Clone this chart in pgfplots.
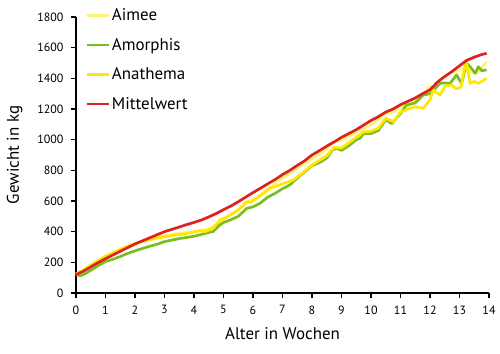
\documentclass[border=0pt]{standalone}
\usepackage{pgfplots}
\pgfplotsset{compat=1.18}
\usepackage{fontspec}
\setmainfont{PT Sans}
\definecolor{cAimee}{RGB}{255,244,120}
\definecolor{cAmorphis}{RGB}{122,190,30}
\definecolor{cAnathema}{RGB}{255,232,0}
\definecolor{cMittel}{RGB}{222,32,32}
\begin{document}
\begin{tikzpicture}
\begin{axis}[
  name=ax,
  scale only axis,
  width=413bp, height=276bp,
  xmin=0, xmax=14, ymin=0, ymax=1800,
  xtick={0,1,...,14}, ytick={0,200,...,1800},
  axis x line*=bottom, axis y line*=left,
  axis line style={line width=1.8pt, black, -},
  tick style={line width=1.5pt, black},
  tick align=outside,
  major tick length=5bp,
  /pgf/number format/assume math mode=true,
  /pgf/number format/1000 sep={},
  tick label style={font=\fontsize{12}{14}\selectfont},
  xticklabel style={yshift=-4bp},
  yticklabel style={xshift=-4bp},
  xlabel={Alter in Wochen}, ylabel={Gewicht in kg},
  label style={font=\fontsize{17}{20}\selectfont},
  xlabel style={yshift=-6bp},
  ylabel style={yshift=8bp},
  legend style={draw=none, fill=none, at={(0.015,1.045)}, anchor=north west,
    font=\fontsize{17}{20}\selectfont, row sep=12bp},
  legend cell align=left,
  legend image code/.code={\draw[#1, line width=2.6pt] (0bp,0bp) -- (22bp,0bp);},
  every axis plot/.append style={line width=2.7pt, line join=round},
  clip=false,
]
\addplot[cAimee] coordinates {
(0,118) (0.25,145) (0.5,178) (0.75,208) (1,235) (1.25,258) (1.5,280) (1.75,300) (2,318) (2.25,334) (2.5,348) (2.75,362) (3,375) (3.25,383) (3.5,390) (3.75,395) (4,400) (4.25,410) (4.5,420) (4.75,445) (5,480) (5.25,510) (5.5,545) (5.75,585) (6,612) (6.25,640) (6.5,680) (6.75,715) (7,750) (7.25,780) (7.5,815) (7.75,845) (8,875) (8.25,905) (8.5,940) (8.72,987) (9,995) (9.25,1020) (9.5,1050) (9.75,1070) (10,1100) (10.25,1130) (10.5,1170) (10.75,1180) (11,1210) (11.25,1240) (11.55,1270) (11.8,1300) (12,1350) (12.2,1335) (12.35,1395) (12.5,1415) (12.68,1433) (12.9,1445) (13.13,1465) (13.36,1443) (13.58,1433) (13.75,1470) (13.92,1508)};
\addlegendentry{Aimee}
\addplot[cAmorphis] coordinates {
(0,122) (0.15,112) (0.3,125) (0.5,148) (0.75,178) (1,205) (1.25,220) (1.5,238) (1.75,258) (2,275) (2.25,290) (2.5,305) (2.75,318) (3,335) (3.25,345) (3.5,355) (3.75,362) (4,370) (4.25,382) (4.5,395) (4.65,400) (4.85,440) (5,460) (5.25,478) (5.5,500) (5.79,552) (6,562) (6.24,585) (6.5,625) (6.75,650) (7,680) (7.25,705) (7.5,750) (7.75,790) (8,830) (8.25,850) (8.5,880) (8.7,935) (8.85,943) (9,930) (9.25,960) (9.5,1000) (9.63,1009) (9.75,1040) (10,1040) (10.25,1060) (10.5,1130) (10.7,1105) (11,1170) (11.2,1225) (11.5,1240) (11.77,1291) (12,1300) (12.34,1367) (12.5,1370) (12.68,1367) (12.9,1422) (13.07,1367) (13.24,1500) (13.36,1476) (13.53,1433) (13.64,1476) (13.75,1450) (13.92,1455)};
\addlegendentry{Amorphis}
\addplot[cAnathema] coordinates {
(0,125) (0.25,150) (0.5,182) (0.75,212) (1,240) (1.25,262) (1.5,285) (1.75,305) (2,322) (2.25,336) (2.5,348) (2.75,358) (3,367) (3.25,375) (3.5,380) (3.75,388) (4,398) (4.2,406) (4.37,400) (4.65,422) (4.88,476) (5.1,495) (5.5,540) (5.79,596) (5.93,590) (6.25,635) (6.58,683) (7,712) (7.37,737) (7.75,795) (8,835) (8.5,895) (8.75,950) (9,945) (9.5,1015) (9.75,1050) (10,1055) (10.25,1075) (10.5,1140) (10.76,1117) (11,1180) (11.25,1200) (11.5,1215) (11.77,1204) (12,1260) (12.11,1324) (12.34,1291) (12.51,1348) (12.74,1356) (12.9,1330) (13.05,1345) (13.22,1520) (13.36,1367) (13.5,1380) (13.64,1367) (13.92,1400)};
\addlegendentry{Anathema}
\addplot[cMittel] coordinates {
(0,120) (0.25,142) (0.5,170) (0.75,198) (1,224) (1.25,248) (1.5,272) (1.75,296) (2,320) (2.25,340) (2.5,360) (2.75,380) (3,400) (3.25,415) (3.5,430) (3.75,446) (4,460) (4.25,476) (4.5,496) (4.75,518) (5,543) (5.25,567) (5.5,595) (5.75,625) (6,655) (6.25,683) (6.5,712) (6.75,740) (7,772) (7.25,800) (7.5,832) (7.75,862) (8,900) (8.25,928) (8.5,958) (8.75,985) (9,1015) (9.25,1040) (9.5,1065) (9.75,1095) (10,1125) (10.25,1150) (10.5,1180) (10.75,1200) (11,1228) (11.25,1250) (11.5,1272) (11.75,1300) (12,1325) (12.25,1375) (12.5,1412) (12.75,1445) (13,1482) (13.25,1518) (13.5,1538) (13.75,1555) (13.92,1563)};
\addlegendentry{Mittelwert}
\end{axis}
\path (ax.south west) ++(-76bp,-61bp) rectangle ++(500bp,354bp);
\end{tikzpicture}
\end{document}
